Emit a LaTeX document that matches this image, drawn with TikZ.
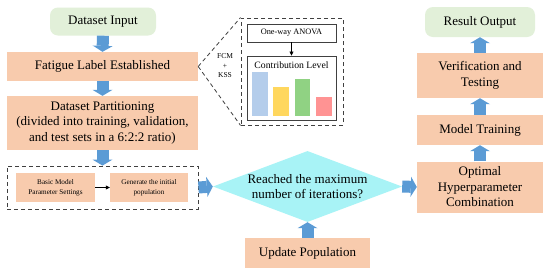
\documentclass[tikz,border=0pt]{standalone}
\usepackage{fontspec}
\setmainfont{Liberation Serif}
\usetikzlibrary{arrows.meta,shapes.geometric}
\definecolor{boxorange}{HTML}{F8CBAD}
\definecolor{boxgreen}{HTML}{E2F0D9}
\definecolor{diacyan}{HTML}{A8F3F6}
\definecolor{arrowblue}{HTML}{5B9BD5}
\definecolor{bordergray}{HTML}{404040}
\definecolor{barblue}{HTML}{B4CDEB}
\definecolor{baryellow}{HTML}{FFD75E}
\definecolor{bargreen}{HTML}{90D283}
\definecolor{barpink}{HTML}{FF9393}
\begin{document}
\begin{tikzpicture}[x=1pt,y=-1pt,
  big/.style={font=\fontsize{13}{15.5}\selectfont, align=center, inner sep=0pt},
  ob/.style={big, fill=boxorange},
  sb/.style={font=\fontsize{7.2}{10}\selectfont, align=center, inner sep=0pt, fill=boxorange},
  dbox/.style={draw=bordergray, line width=0.9pt, dash pattern=on 4pt off 3pt, inner sep=0pt},
  dline/.style={draw=bordergray, line width=0.8pt, dash pattern=on 4pt off 3pt},
  graybox/.style={draw=bordergray, line width=0.9pt, fill=white, inner sep=0pt},
  barrow/.style={draw=arrowblue, line width=12pt, -{Triangle[width=20pt,length=6pt,line width=0pt]}},
  thinarrow/.style={draw=black, line width=0.6pt, -{Triangle[width=4pt,length=4pt]}}
]
\fill[white] (0,0) rectangle (550,274);

% left column
\node[big, fill=boxgreen, rounded corners=8pt, minimum width=106pt, minimum height=28pt] (input) at (103,21.5) {Dataset Input};
\node[ob, minimum width=191pt, minimum height=29pt] (fatigue) at (102.5,66.5) {Fatigue Label Established};
\node[ob, minimum width=191pt, minimum height=54pt] (part) at (102.5,123) {Dataset Partitioning\\(divided into training, validation,\\and test sets in a 6:2:2 ratio)};
\node[dbox, minimum width=191pt, minimum height=43pt] (group) at (102.5,187.5) {};
\node[sb, minimum width=79pt, minimum height=29pt] (basic) at (55.5,187.5) {Basic Model\\Parameter Settings};
\node[sb, minimum width=78pt, minimum height=29pt] (gen) at (149,187.5) {Generate the initial\\population};
\draw[thinarrow] (basic.east) -- (gen.west);

% side panel
\node[dbox, minimum width=102pt, minimum height=107pt] (panel) at (292,71.5) {};
\draw[dline] (fatigue.east) -- (panel.north west);
\draw[dline] (fatigue.east) -- (panel.south west);
\node[font=\fontsize{7.5}{9.5}\selectfont, align=center, inner sep=0pt] (fcm) at (225,66) {FCM\\+\\KSS};
\node[graybox, font=\fontsize{8.3}{10}\selectfont, minimum width=89pt, minimum height=18pt] (anova) at (291.5,33) {One-way ANOVA};
\node[graybox, minimum width=89pt, minimum height=64pt] (contrib) at (291.5,88) {};
\node[font=\fontsize{9.7}{11}\selectfont, inner sep=0pt] (contribtext) at (291.5,65) {Contribution Level};
\draw[thinarrow] (anova.south) -- (contrib.north);
\fill[barblue] (252,72) rectangle (268,116);
\fill[baryellow] (273,87) rectangle (289,116);
\fill[bargreen] (295,79) rectangle (310,116);
\fill[barpink] (316,97) rectangle (332,116);

% middle
\node[diamond, fill=diacyan, minimum width=189pt, minimum height=71pt, inner sep=0pt] (dia) at (307.5,186.5) {};
\node[big] (diatext) at (dia.center) {Reached the maximum\\number of iterations?};
\node[ob, minimum width=125pt, minimum height=30pt] (update) at (307.5,253) {Update Population};

% right column
\node[big, fill=boxgreen, rounded corners=8pt, minimum width=110pt, minimum height=30pt] (result) at (480,22) {Result Output};
\node[ob, minimum width=126pt, minimum height=45pt] (verif) at (480,75.5) {Verification and\\Testing};
\node[ob, minimum width=126pt, minimum height=30pt] (train) at (480,130) {Model Training};
\node[ob, minimum width=126pt, minimum height=51pt] (opt) at (480,187) {Optimal\\Hyperparameter\\Combination};

% block arrows
\draw[barrow] (input.south) -- (fatigue.north);
\draw[barrow] (fatigue.south) -- (part.north);
\draw[barrow] (part.south) -- (group.north);
\draw[barrow] (group.east) -- (dia.west);
\draw[barrow] (update.north) -- (dia.south);
\draw[barrow] (dia.east) -- (opt.west);
\draw[barrow] (opt.north) -- (train.south);
\draw[barrow] (train.north) -- (verif.south);
\draw[barrow] (verif.north) -- (result.south);
\end{tikzpicture}
\end{document}
